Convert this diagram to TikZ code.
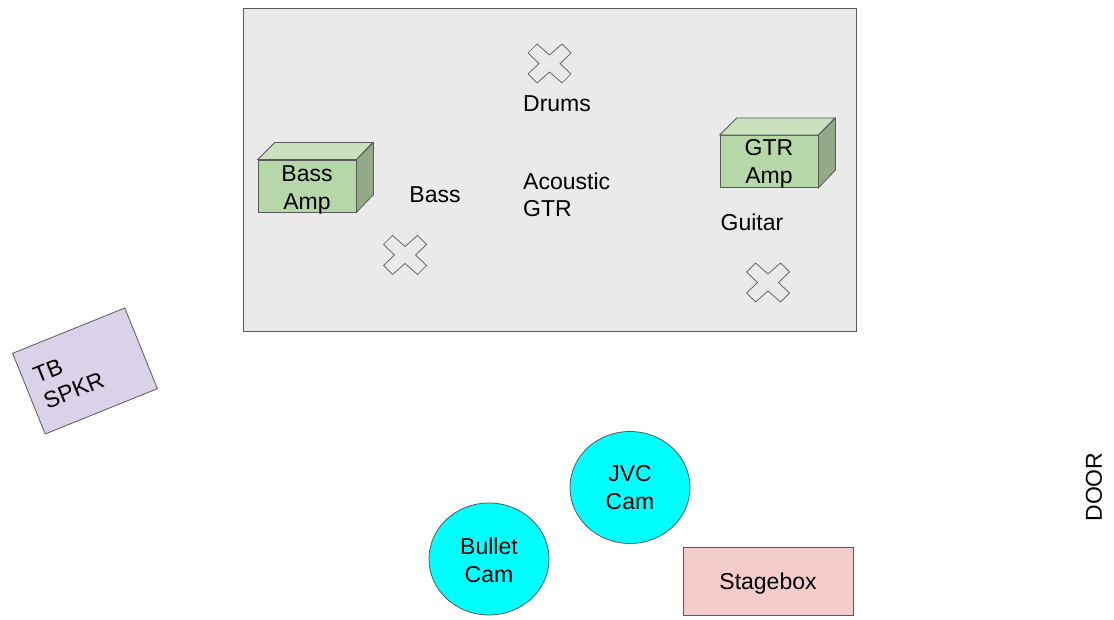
\documentclass[tikz,border=0pt]{standalone}
\usepackage{fontspec}
\setmainfont{Liberation Sans}
\usetikzlibrary{shapes.geometric}
\definecolor{stagegray}{HTML}{EAEAEA}
\definecolor{ampfront}{HTML}{B6D7A8}
\definecolor{amptop}{HTML}{C9E1BE}
\definecolor{ampside}{HTML}{93AA88}
\definecolor{spkrfill}{HTML}{D9D2E9}
\definecolor{boxfill}{HTML}{F4CCCC}
\definecolor{camfill}{HTML}{00FFFF}
\definecolor{edgegray}{HTML}{595959}

\tikzset{
  every node/.style={font=\fontsize{23}{27.5}\selectfont, align=center},
  outline/.style={draw=edgegray, line width=0.8pt},
  ampfront/.style={outline, fill=ampfront, minimum width=98, minimum height=52, inner sep=0pt},
  cam/.style={outline, ellipse, fill=camfill, minimum width=120, minimum height=112, inner sep=0pt},
  caption/.style={inner sep=0pt},
  xspot/.pic={
    \draw[outline, line width=0.7pt] (-21.5,-10.5) -- (-12.5,-19.5) -- (0,-8.5) -- (12.5,-19.5)
      -- (21.5,-10.5) -- (10.5,0) -- (21.5,10.5) -- (12.5,19.5) -- (0,8.5)
      -- (-12.5,19.5) -- (-21.5,10.5) -- (-10.5,0) -- cycle;
  }
}

\begin{document}
\begin{tikzpicture}[x=1pt, y=-1pt]
  \useasboundingbox (0,0) rectangle (1114,620);
  \draw[outline, fill=stagegray] (243,8) rectangle (856,331);

  \pic at (549.5,63.5) {xspot};
  \pic at (405,255) {xspot};
  \pic at (768,282.5) {xspot};

  \node[caption] (drums) at (557,103.5) {Drums};
  \node[caption] (bass) at (435,195) {Bass};
  \node[caption, align=left, anchor=west] (acoustic) at (523,195) {Acoustic\\GTR};
  \node[caption] (guitar) at (752,222) {Guitar};

  \node[ampfront, label={[caption, yshift=-4pt]center:{Bass\\Amp}}] (bassamp) at (307,186) {};
  \node[ampfront, label={[caption, yshift=-2.5pt]center:{GTR\\Amp}}] (gtramp) at (769,161.5) {};
  \foreach \amp in {bassamp, gtramp} {
    \draw[outline, fill=amptop] (\amp.north west) -- ++(17,-17) -- ++(98,0) -- (\amp.north east) -- cycle;
    \draw[outline, fill=ampside] (\amp.north east) -- ++(17,-17) -- ++(0,52) -- (\amp.south east) -- cycle;
  }

  \node[outline, fill=spkrfill, rotate=22, minimum width=121, minimum height=87,
        text width=98, inner xsep=11.5, inner ysep=0pt, align=left] (spkr) at (85,371) {TB\\SPKR};

  \node[cam] (jvc) at (630,487.5) {JVC\\Cam};
  \node[cam, label={[caption, yshift=-1.5pt]center:{Bullet\\Cam}}] (bullet) at (489,559) {};
  \node[outline, fill=boxfill, minimum width=170, minimum height=68,
        label={[caption, yshift=-3pt]center:Stagebox}] (stagebox) at (768,581) {};

  \node[caption, rotate=90] (door) at (1094,487) {DOOR};
\end{tikzpicture}
\end{document}
